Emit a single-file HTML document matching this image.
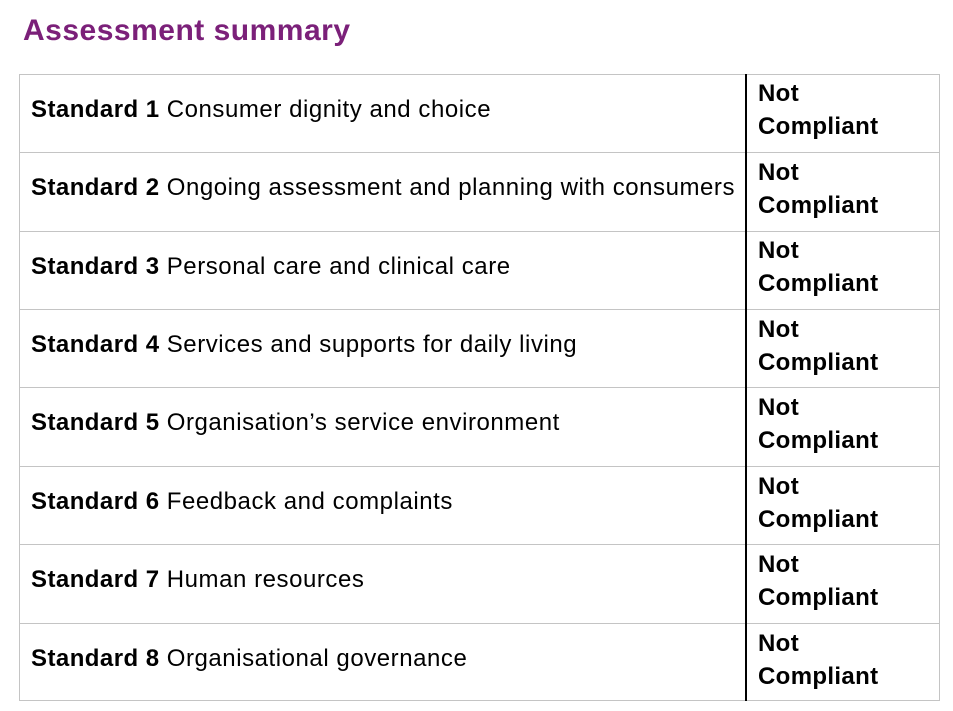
<!DOCTYPE html>
<html>
<head>
<meta charset="utf-8">
<style>
  html, body { margin:0; padding:0; background:#fff; }
  body { width:953px; height:711px; position:relative; overflow:hidden;
         font-family:"Liberation Sans", Arial, sans-serif; color:#000; }
  .title { position:absolute; left:23px; top:11px; font-size:30px; line-height:40px;
           font-weight:bold; color:#7B2079; letter-spacing:0.5px; white-space:nowrap; }
  .hl { position:absolute; left:19px; width:921px; height:1px; background:#c4c4c4; }
  .vl { position:absolute; top:74px; height:627px; width:1px; background:#c4c4c4; }
  .div { position:absolute; top:74px; height:627px; left:745px; width:1.5px; background:#000; }
  .lt { position:absolute; left:31px; font-size:24px; line-height:33px; white-space:nowrap;
        letter-spacing:0.55px; }
  .lt b { letter-spacing:0.45px; }
  .rt { position:absolute; left:758px; font-size:24px; line-height:33px; font-weight:bold;
        letter-spacing:0.35px; white-space:nowrap; }
</style>
</head>
<body>
<div class="title">Assessment summary</div>

<div class="hl" style="top:74px"></div>
<div class="hl" style="top:152px"></div>
<div class="hl" style="top:231px"></div>
<div class="hl" style="top:309px"></div>
<div class="hl" style="top:387px"></div>
<div class="hl" style="top:466px"></div>
<div class="hl" style="top:544px"></div>
<div class="hl" style="top:623px"></div>
<div class="hl" style="top:700px"></div>
<div class="vl" style="left:19px"></div>
<div class="vl" style="left:939px"></div>
<div class="div"></div>

<div class="lt" style="top:93px"><b>Standard 1</b> Consumer dignity and choice</div>
<div class="lt" style="top:171px"><b>Standard 2</b> Ongoing assessment and planning with consumers</div>
<div class="lt" style="top:250px"><b>Standard 3</b> Personal care and clinical care</div>
<div class="lt" style="top:328px"><b>Standard 4</b> Services and supports for daily living</div>
<div class="lt" style="top:406px"><b>Standard 5</b> Organisation’s service environment</div>
<div class="lt" style="top:485px"><b>Standard 6</b> Feedback and complaints</div>
<div class="lt" style="top:563px"><b>Standard 7</b> Human resources</div>
<div class="lt" style="top:642px"><b>Standard 8</b> Organisational governance</div>

<div class="rt" style="top:77px">Not<br>Compliant</div>
<div class="rt" style="top:156px">Not<br>Compliant</div>
<div class="rt" style="top:234px">Not<br>Compliant</div>
<div class="rt" style="top:313px">Not<br>Compliant</div>
<div class="rt" style="top:391px">Not<br>Compliant</div>
<div class="rt" style="top:470px">Not<br>Compliant</div>
<div class="rt" style="top:548px">Not<br>Compliant</div>
<div class="rt" style="top:627px">Not<br>Compliant</div>
</body>
</html>
